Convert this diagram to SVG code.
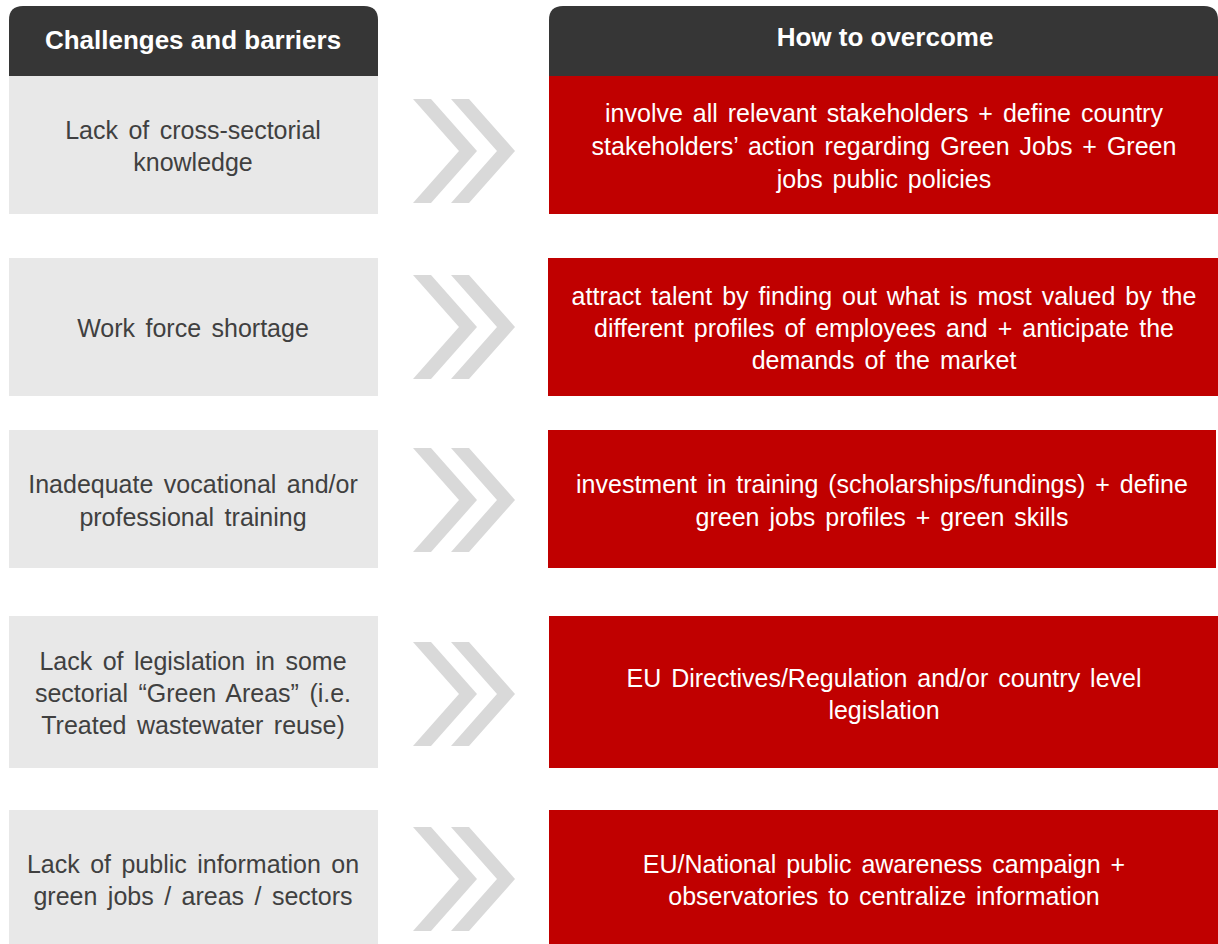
<svg xmlns="http://www.w3.org/2000/svg" width="1218" height="944" viewBox="0 0 1218 944">
  <defs>
    <style>
      .hdr { fill: #363636; }
      .hdr-t { font-family: "Liberation Sans", Arial, sans-serif; font-size: 26px; font-weight: bold; fill: #ffffff; text-anchor: middle; }
      .cell { fill: #e8e8e8; }
      .cell-t { font-family: "Liberation Sans", Arial, sans-serif; font-size: 25px; fill: #404040; text-anchor: middle; word-spacing: 3.5px; }
      .act { fill: #c00000; }
      .act-t { font-family: "Liberation Sans", Arial, sans-serif; font-size: 25px; fill: #ffffff; text-anchor: middle; word-spacing: 3px; }
      .chev { fill: #d9d9d9; }
    </style>
    <!-- double chevron, centred on y = 0 -->
    <g id="dbl-chevron">
      <polygon class="chev" points="413,-52 431,-52 477,0 431,52 413,52 459,0"/>
      <polygon class="chev" points="451,-52 469,-52 515,0 469,52 451,52 497,0"/>
    </g>
  </defs>

  <rect width="1218" height="944" fill="#ffffff"/>

  <!-- column headers -->
  <g id="header-challenges">
    <path class="hdr" d="M9,76 V20 Q9,6 23,6 H364 Q378,6 378,20 V76 Z"/>
    <text class="hdr-t" x="193" y="49">Challenges and barriers</text>
  </g>
  <g id="header-overcome">
    <path class="hdr" d="M549,76 V20 Q549,6 563,6 H1204 Q1218,6 1218,20 V76 Z"/>
    <text class="hdr-t" x="885" y="46">How to overcome</text>
  </g>

  <!-- challenges -->
  <g id="challenge-1">
    <rect class="cell" x="9" y="76" width="369" height="138"/>
    <text class="cell-t" x="193" y="139">Lack of cross-sectorial</text>
    <text class="cell-t" x="193" y="171">knowledge</text>
  </g>
  <g id="challenge-2">
    <rect class="cell" x="9" y="258" width="369" height="138"/>
    <text class="cell-t" x="193" y="337">Work force shortage</text>
  </g>
  <g id="challenge-3">
    <rect class="cell" x="9" y="430" width="369" height="138"/>
    <text class="cell-t" x="193" y="493">Inadequate vocational and/or</text>
    <text class="cell-t" x="193" y="526">professional training</text>
  </g>
  <g id="challenge-4">
    <rect class="cell" x="9" y="616" width="369" height="152"/>
    <text class="cell-t" x="193" y="670">Lack of legislation in some</text>
    <text class="cell-t" x="193" y="702">sectorial “Green Areas” (i.e.</text>
    <text class="cell-t" x="193" y="734">Treated wastewater reuse)</text>
  </g>
  <g id="challenge-5">
    <rect class="cell" x="9" y="810" width="369" height="134"/>
    <text class="cell-t" x="193" y="873">Lack of public information on</text>
    <text class="cell-t" x="193" y="905">green jobs / areas / sectors</text>
  </g>

  <!-- actions -->
  <g id="action-1">
    <rect class="act" x="549" y="76" width="669" height="138"/>
    <text class="act-t" x="884" y="122">involve all relevant stakeholders + define country</text>
    <text class="act-t" x="884" y="155">stakeholders’ action regarding Green Jobs + Green</text>
    <text class="act-t" x="884" y="188">jobs public policies</text>
  </g>
  <g id="action-2">
    <rect class="act" x="548" y="258" width="670" height="138"/>
    <text class="act-t" x="884" y="305">attract talent by finding out what is most valued by the</text>
    <text class="act-t" x="884" y="337">different profiles of employees and + anticipate the</text>
    <text class="act-t" x="884" y="369">demands of the market</text>
  </g>
  <g id="action-3">
    <rect class="act" x="548" y="430" width="668" height="138"/>
    <text class="act-t" x="882" y="493">investment in training (scholarships/fundings) + define</text>
    <text class="act-t" x="882" y="526">green jobs profiles + green skills</text>
  </g>
  <g id="action-4">
    <rect class="act" x="549" y="616" width="669" height="152"/>
    <text class="act-t" x="884" y="687">EU Directives/Regulation and/or country level</text>
    <text class="act-t" x="884" y="719">legislation</text>
  </g>
  <g id="action-5">
    <rect class="act" x="549" y="810" width="669" height="134"/>
    <text class="act-t" x="884" y="873">EU/National public awareness campaign +</text>
    <text class="act-t" x="884" y="905">observatories to centralize information</text>
  </g>

  <!-- chevron connectors between each challenge and its action -->
  <g id="connectors">
    <use href="#dbl-chevron" y="151"/>
    <use href="#dbl-chevron" y="327"/>
    <use href="#dbl-chevron" y="500"/>
    <use href="#dbl-chevron" y="694"/>
    <use href="#dbl-chevron" y="879"/>
  </g>
</svg>
